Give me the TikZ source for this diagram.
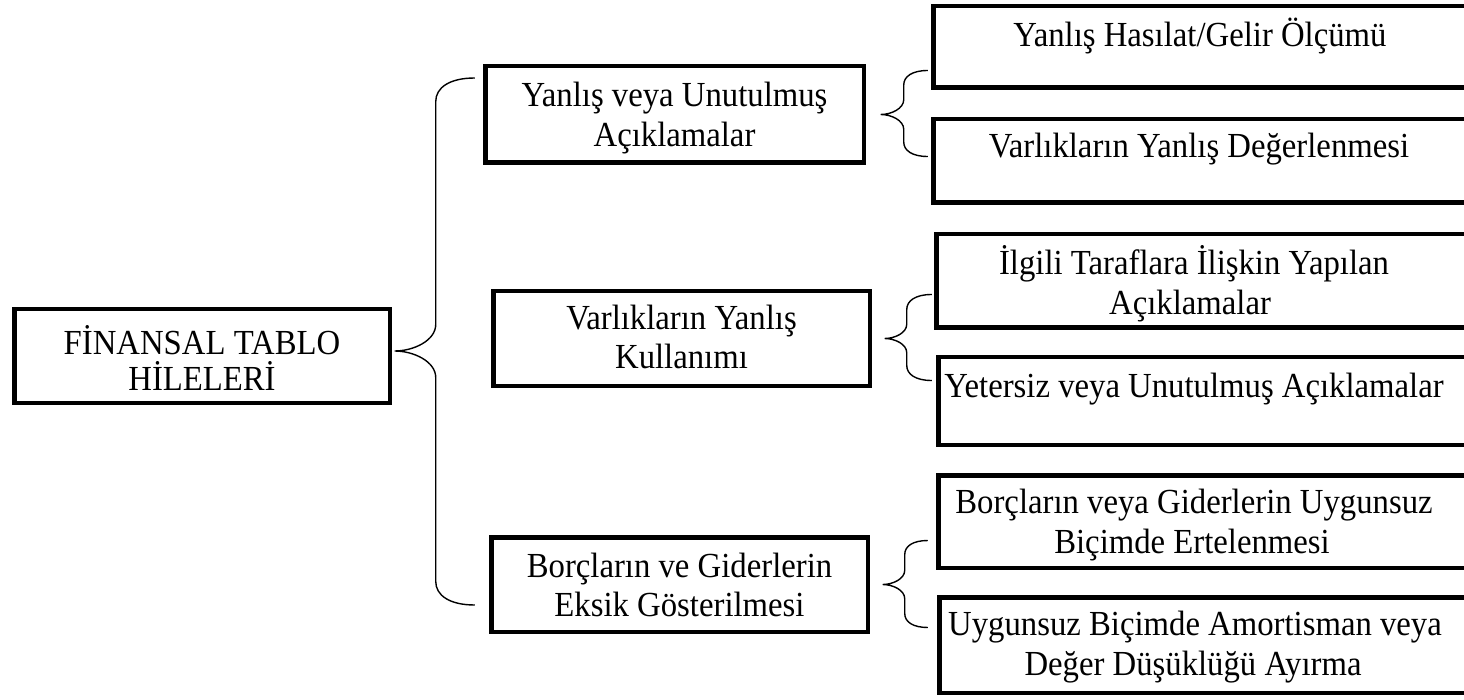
\documentclass[tikz,border=0pt]{standalone}
\usepackage{fontspec}
\setmainfont{Liberation Serif}[FakeStretch=0.93]
\begin{document}
\begin{tikzpicture}[x=1pt,y=-1pt,
  box/.style={draw=black, line width=4.5pt, inner sep=0pt, outer sep=0pt, fill=none},
  txt/.style={inner sep=0pt, anchor=base, font=\fontsize{35.2}{42}\selectfont},
  bracestroke/.style={draw=black, line width=1.4pt},
  pics/curly/.style n args={4}{code={
    % #1 reach above tip, #2 reach below tip, #3 tip-to-spine depth, #4 spine-to-end depth
    \draw[bracestroke] ({#3+#4},{-#1}) .. controls ({#3+0.35*#4},{-#1}) and (#3,{-#1+0.25*#4}) .. (#3,{-#1+0.6*#4})
      -- (#3,{-0.65*#3}) .. controls (#3,{-0.25*#3}) and ({0.45*#3},0) .. (0,0)
      .. controls ({0.45*#3},0) and (#3,{0.25*#3}) .. (#3,{0.65*#3})
      -- (#3,{#2-0.6*#4}) .. controls (#3,{#2-0.25*#4}) and ({#3+0.35*#4},#2) .. ({#3+#4},#2);
  }}]
\clip (0,0) rectangle (1464,700);
\useasboundingbox (0,0) rectangle (1464,700);

% root
\node[box, minimum width=375.5pt, minimum height=93.5pt] (main) at (202,356) {};
\node[txt] (mainl1) at (202,355) {FİNANSAL TABLO};
\node[txt] (mainl2) at (202,390) {HİLELERİ};

% second level
\node[box, minimum width=378.5pt, minimum height=96.5pt] (boxA) at (674.5,114.5) {};
\node[txt] (boxAl1) at (674.5,107) {Yanlış veya Unutulmuş};
\node[txt] (boxAl2) at (674.5,147) {Açıklamalar};

\node[box, minimum width=376.5pt, minimum height=94.5pt] (boxB) at (681.5,338.5) {};
\node[txt] (boxBl1) at (681.5,330) {Varlıkların Yanlış};
\node[txt] (boxBl2) at (681.5,369) {Kullanımı};

\node[box, minimum width=376.5pt, minimum height=94.5pt] (boxC) at (679.5,584.5) {};
\node[txt] (boxCl1) at (679.5,577) {Borçların ve Giderlerin};
\node[txt] (boxCl2) at (679.5,616) {Eksik Gösterilmesi};

% third level
\node[box, minimum width=546.5pt, minimum height=81.5pt] (sub1) at (1206.5,47) {};
\node[txt] (sub1l1) at (1200,47) {Yanlış Hasılat/Gelir Ölçümü};

\node[box, minimum width=546.5pt, minimum height=83.5pt] (sub2) at (1206.5,161) {};
\node[txt] (sub2l1) at (1199,158) {Varlıkların Yanlış Değerlenmesi};

\node[box, minimum width=543.5pt, minimum height=93.5pt] (sub3) at (1208,281) {};
\node[txt] (sub3l1) at (1194,275) {İlgili Taraflara İlişkin Yapılan};
\node[txt] (sub3l2) at (1190,315) {Açıklamalar};

\node[box, minimum width=541.5pt, minimum height=87.5pt] (sub4) at (1209,401) {};
\node[txt] (sub4l1) at (1194,397) {Yetersiz veya Unutulmuş Açıklamalar};

\node[box, minimum width=541.5pt, minimum height=92.5pt] (sub5) at (1209,521.5) {};
\node[txt] (sub5l1) at (1194,513) {Borçların veya Giderlerin Uygunsuz};
\node[txt] (sub5l2) at (1192,553) {Biçimde Ertelenmesi};

\node[box, minimum width=540.5pt, minimum height=95.5pt] (sub6) at (1209.5,645) {};
\node[txt] (sub6l1) at (1195,635) {Uygunsuz Biçimde Amortisman veya};
\node[txt] (sub6l2) at (1193,675) {Değer Düşüklüğü Ayırma};

% brace tips
\coordinate (tip0) at ([shift={(5,-5)}]main.east);
\coordinate (tipA) at ([shift={(17,0)}]boxA.east);
\coordinate (tipB) at ([shift={(15,0)}]boxB.east);
\coordinate (tipC) at ([shift={(15,0)}]boxC.east);

% braces
\pic at (tip0) {curly={273}{254}{41}{39}};
\pic at (tipA) {curly={44}{42}{23}{24}};
\pic at (tipB) {curly={44}{42}{22}{25}};
\pic at (tipC) {curly={44}{43}{22}{23}};
\end{tikzpicture}
\end{document}
